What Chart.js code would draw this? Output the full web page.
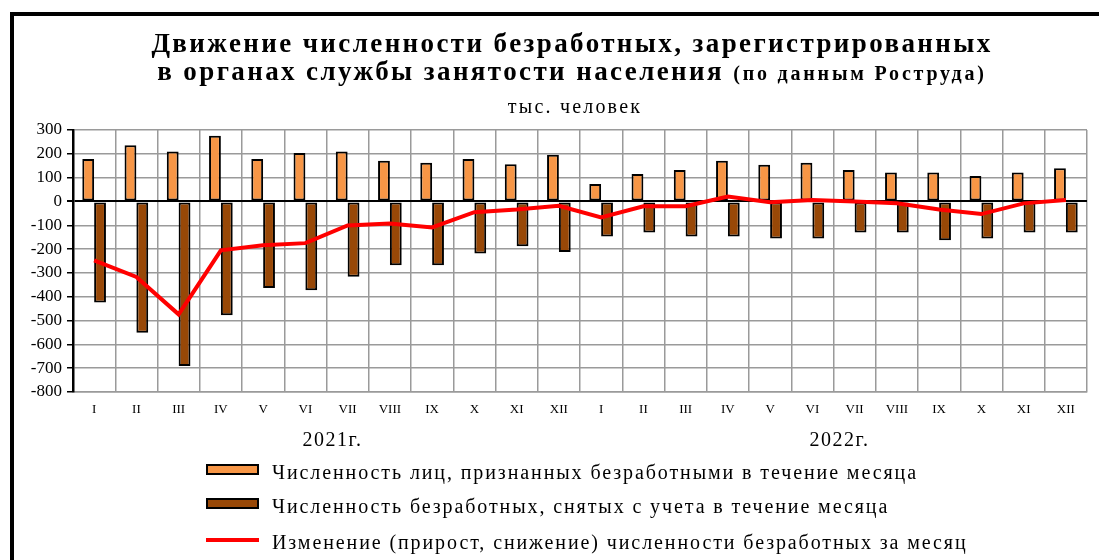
<!DOCTYPE html>
<html>
<head>
<meta charset="utf-8">
<script src="https://cdn.jsdelivr.net/npm/chart.js@4/dist/chart.umd.min.js"></script>
<style>
  html, body { margin:0; padding:0; background:#fff; }
  body { width:1099px; height:560px; position:relative; overflow:hidden; font-family:'Liberation Serif', 'Times New Roman', serif; color:#000; }
  #frame { position:absolute; left:10px; top:12px; width:1200px; height:700px; border-left:4px solid #000; border-top:4px solid #000; }
  #chart { position:absolute; left:0; top:0; }
  .title { position:absolute; left:0; width:1144px; text-align:center; font-weight:bold; font-size:27px; line-height:28px; letter-spacing:2.4px; top:29px; white-space:nowrap; }
  .title small { font-size:20px; letter-spacing:2.8px; }
  .sub { position:absolute; left:0; width:1150px; text-align:center; font-size:20px; line-height:20px; letter-spacing:2.2px; top:96px; }
  .leg { position:absolute; left:206px; font-size:20px; line-height:20px; letter-spacing:1.9px; white-space:nowrap; }
  .leg i { position:absolute; left:0; display:block; }
  .leg span { position:absolute; left:66px; top:0; }
</style>
</head>
<body>
<div id="frame"></div>
<canvas id="chart" width="1099" height="560"></canvas>
<div class="title">Движение численности безработных, зарегистрированных<br>в органах службы занятости населения <small>(по данным Роструда)</small></div>
<div class="sub">тыс. человек</div>
<div id="legend"></div>
<script>
// подписи по оси X (месяцы) и годы
const months = ['I','II','III','IV','V','VI','VII','VIII','IX','X','XI','XII',
                'I','II','III','IV','V','VI','VII','VIII','IX','X','XI','XII'];
const years = ['2021г.', '2022г.'];

const seriesNames = [
  'Численность лиц, признанных безработными в течение месяца',
  'Численность безработных, снятых с учета в течение месяца',
  'Изменение (прирост, снижение) численности безработных за месяц'
];

// признаны безработными, тыс. чел.
const recognized = [178, 236, 210, 276, 178, 203, 210, 171, 163, 178, 156, 196,
                    73, 115, 132, 171, 154, 163, 132, 122, 122, 107, 122, 139];
const removed = [-424, -551, -691, -478, -363, -373, -316, -268, -268, -219, -188, -212,
                 -147, -130, -147, -147, -156, -156, -130, -130, -163, -156, -130, -130];
// изменение за месяц
const change = [-247, -317, -474, -205, -184, -175, -101, -93, -109, -45, -34, -18,
                -67, -20, -20, 21, -3, 6, 0, -8, -34, -53, -8, 6];

const yTicks = [300, 200, 100, 0, -100, -200, -300, -400, -500, -600, -700, -800];

const COL_IN = '#F79646', COL_OUT = '#984807', COL_LINE = '#FF0000', GRID = '#9a9a9a';

// годы под подписями месяцев
const yearLabelsPlugin = {
  id: 'yearLabels',
  afterDraw(chart) {
    const x = chart.scales.x, ctx = chart.ctx;
    ctx.save();
    ctx.font = '20px "Liberation Serif"';
    ctx.letterSpacing = '1.5px';
    ctx.fillStyle = '#000';
    ctx.textAlign = 'center';
    ctx.textBaseline = 'alphabetic';
    years.forEach((y, i) => {
      const a = x.getPixelForValue(i*12 + 5), b = x.getPixelForValue(i*12 + 6);
      ctx.fillText(y, (a + b) / 2 + 6, 446);
    });
    ctx.restore();
  }
};

const chart = new Chart(document.getElementById('chart'), {
  type: 'bar',
  data: {
    labels: months,
    datasets: [
      { type:'line', label: seriesNames[2], data: change, borderColor: COL_LINE, backgroundColor: COL_LINE,
        borderWidth: 4, pointRadius: 0, tension: 0, order: 0 },
      { label: seriesNames[0], data: recognized, backgroundColor: COL_IN, borderColor: '#000',
        borderWidth: 2, borderSkipped: false, categoryPercentage: 0.56, barPercentage: 1, order: 1 },
      { label: seriesNames[1], data: removed, backgroundColor: COL_OUT, borderColor: '#000',
        borderWidth: 2, borderSkipped: false, categoryPercentage: 0.56, barPercentage: 1, order: 1 },
    ],
  },
  options: {
    responsive: false, animation: false, devicePixelRatio: 1,
    layout: { padding: { left: 0, right: 12, top: 130, bottom: 138 } },
    plugins: { legend: { display: false }, tooltip: { enabled: false }, title: { display: false } },
    scales: {
      x: {
        afterFit: s => { s.height = 30; },
        grid: { color: GRID, lineWidth: 1.5, offset: true, drawTicks: false },
        border: { color: GRID, width: 1.5 },
        ticks: { color: '#000', font: { family: 'Liberation Serif', size: 13 }, padding: 10, maxRotation: 0, autoSkip: false },
      },
      y: {
        min: -800, max: 300,
        afterFit: s => { s.width = 73; },
        afterBuildTicks: s => { s.ticks = yTicks.map(v => ({ value: v })); },
        grid: {
          color: c => c.tick && c.tick.value === 0 ? '#000' : GRID,
          lineWidth: c => c.tick && c.tick.value === 0 ? 2 : 1.5,
          tickColor: '#000', tickLength: 6, drawTicks: true,
        },
        border: { color: '#000', width: 2.5 },
        ticks: { color: '#000', font: { family: 'Liberation Serif', size: 17 }, padding: 5, autoSkip: false },
      },
    },
  },
  plugins: [yearLabelsPlugin],
});

// легенда столбиком, как в оригинале
const legendEl = document.getElementById('legend');
const legendRows = [
  { top: 462, ds: 1 },
  { top: 496, ds: 2 },
  { top: 532, ds: 0 },
];
legendRows.forEach(r => {
  const ds = chart.data.datasets[r.ds];
  const row = document.createElement('div');
  row.className = 'leg';
  row.style.top = r.top + 'px';
  const mark = document.createElement('i');
  if (ds.type === 'line') {
    mark.style.cssText = `top:6px;width:53px;height:4px;background:${ds.borderColor}`;
  } else {
    mark.style.cssText = `top:2px;width:49px;height:7px;background:${ds.backgroundColor};border:2px solid #000`;
  }
  const txt = document.createElement('span');
  txt.textContent = ds.label;
  row.appendChild(mark); row.appendChild(txt);
  legendEl.appendChild(row);
});
</script>
</body>
</html>
